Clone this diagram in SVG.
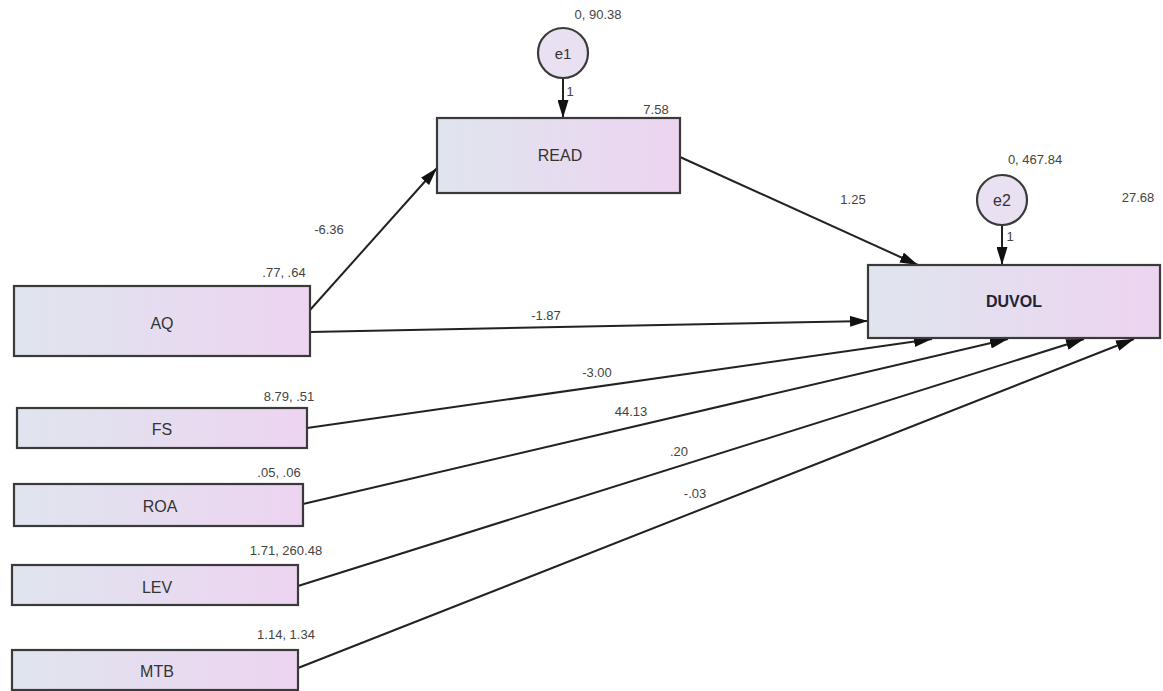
<svg xmlns="http://www.w3.org/2000/svg" width="1163" height="691" viewBox="0 0 1163 691">
<defs>
<linearGradient id="boxfill" x1="0" y1="0" x2="1" y2="0">
<stop offset="0" stop-color="#dfe5ee"/>
<stop offset="1" stop-color="#edd4f1"/>
</linearGradient>
<marker id="arr" viewBox="0 0 18 11" refX="18" refY="5.5" markerWidth="18" markerHeight="11" markerUnits="userSpaceOnUse" orient="auto">
<path d="M0,0 L18,5.5 L0,11 Z" fill="#111"/>
</marker>
</defs>
<style>
.box{fill:url(#boxfill);stroke:#3a3a3a;stroke-width:2.2}
.circ{fill:#e9e0f1;stroke:#3a3a3a;stroke-width:2.2}
.lbl{font-family:"Liberation Sans",Arial,sans-serif;font-size:16px;fill:#333;text-anchor:middle;dominant-baseline:central}
.num{font-family:"Liberation Sans",Arial,sans-serif;font-size:13px;fill:#444;text-anchor:middle}
.edge{stroke:#222;stroke-width:2;fill:none;marker-end:url(#arr)}
</style>
<rect width="1163" height="691" fill="#fff"/>
<g id="connectors">
<line class="edge" x1="563" y1="78" x2="563" y2="118"/>
<line class="edge" x1="1002" y1="225" x2="1002" y2="265"/>
<line class="edge" x1="310" y1="310" x2="437" y2="168"/>
<line class="edge" x1="680" y1="157" x2="918" y2="265"/>
<line class="edge" x1="310" y1="332" x2="868" y2="321"/>
<line class="edge" x1="307" y1="428" x2="932" y2="339"/>
<line class="edge" x1="303" y1="504" x2="1008" y2="339"/>
<line class="edge" x1="298" y1="586" x2="1084" y2="339"/>
<line class="edge" x1="298" y1="668" x2="1134" y2="339"/>
<text class="num" x="570" y="96">1</text>
<text class="num" x="1010" y="241">1</text>
<text class="num" x="329" y="234">-6.36</text>
<text class="num" x="853" y="204">1.25</text>
<text class="num" x="546" y="320">-1.87</text>
<text class="num" x="597" y="377">-3.00</text>
<text class="num" x="631" y="416">44.13</text>
<text class="num" x="679" y="456">.20</text>
<text class="num" x="695" y="498">-.03</text>
</g>
<g id="e1">
<circle class="circ" cx="563" cy="53" r="25"/>
<text class="lbl" x="563" y="53" style="font-size:15px">e1</text>
<text class="num" x="598" y="19">0, 90.38</text>
</g>
<g id="e2">
<circle class="circ" cx="1002" cy="200" r="25"/>
<text class="lbl" x="1002" y="200" style="font-size:16px">e2</text>
<text class="num" x="1035" y="164">0, 467.84</text>
</g>
<g id="READ">
<rect class="box" x="437" y="118" width="243" height="75"/>
<text class="lbl" x="560" y="155">READ</text>
<text class="num" x="656" y="114">7.58</text>
</g>
<g id="DUVOL">
<rect class="box" x="868" y="265" width="292" height="73"/>
<text class="lbl" x="1014" y="301" style="font-weight:bold;fill:#223">DUVOL</text>
<text class="num" x="1138" y="202">27.68</text>
</g>
<g id="AQ">
<rect class="box" x="14" y="286" width="296" height="70"/>
<text class="lbl" x="162" y="323">AQ</text>
<text class="num" x="284" y="277">.77, .64</text>
</g>
<g id="FS">
<rect class="box" x="17" y="408" width="290" height="40"/>
<text class="lbl" x="162" y="429">FS</text>
<text class="num" x="289" y="401">8.79, .51</text>
</g>
<g id="ROA">
<rect class="box" x="14" y="484" width="289" height="42"/>
<text class="lbl" x="160" y="506">ROA</text>
<text class="num" x="279" y="477">.05, .06</text>
</g>
<g id="LEV">
<rect class="box" x="12" y="565" width="286" height="40"/>
<text class="lbl" x="157" y="587">LEV</text>
<text class="num" x="286" y="555">1.71, 260.48</text>
</g>
<g id="MTB">
<rect class="box" x="12" y="650" width="286" height="40"/>
<text class="lbl" x="157" y="671">MTB</text>
<text class="num" x="286" y="639">1.14, 1.34</text>
</g>
</svg>
